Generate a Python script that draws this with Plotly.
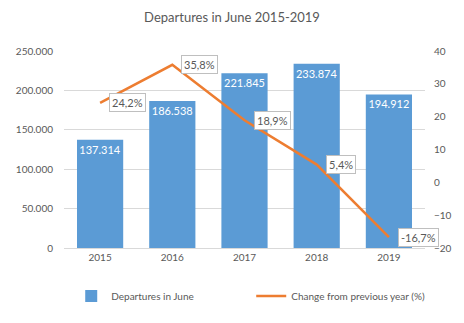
import plotly.graph_objects as go

years = ["2015", "2016", "2017", "2018", "2019"]
departures = [137314, 186538, 221845, 233874, 194912]
change_pct = [24.2, 35.8, 18.9, 5.4, -16.7]
left_ticks = [0, 50000, 100000, 150000, 200000, 250000]

BLUE = "#5B9BD5"
ORANGE = "#ED7D31"
GREY_TXT = "#595959"
FONT = "Lato, 'Open Sans', sans-serif"


def dotted(n):
    # thousands grouped with a dot, e.g. 137.314
    return f"{n:,}".replace(",", ".")


def pct(v):
    return f"{v:.1f}".replace(".", ",") + "%"


fig = go.Figure()

fig.add_trace(go.Bar(
    x=years, y=departures, name="Departures in June",
    marker=dict(color=BLUE, line=dict(width=0)),
    text=[dotted(d) for d in departures],
    textposition="inside", insidetextanchor="end", textangle=0,
    constraintext="none",
    textfont=dict(color="white", size=11, family=FONT),
))

fig.add_trace(go.Scatter(
    x=years, y=change_pct, name="Change from previous year (%)",
    mode="lines", line=dict(color=ORANGE, width=2.5),
    yaxis="y2",
))

# boxed percentage labels to the right of each line point
# (category index positions, since year strings would be read as indices)
for i, v in enumerate(change_pct):
    fig.add_annotation(
        x=i, y=v, xref="x", yref="y2",
        text=pct(v),
        showarrow=False, xanchor="left", xshift=9,
        bgcolor="white", bordercolor="#BFBFBF", borderwidth=1, borderpad=2,
        font=dict(color=GREY_TXT, size=11, family=FONT),
    )

fig.update_layout(
    width=464, height=323,
    margin=dict(l=64, r=30, t=51, b=72),
    paper_bgcolor="white", plot_bgcolor="white",
    title=dict(text="Departures in June 2015-2019", x=0.5, xanchor="center",
               y=0.947, yanchor="middle",
               font=dict(size=13, color=GREY_TXT, family=FONT)),
    font=dict(family=FONT, color=GREY_TXT, size=10),
    bargap=0.36,
    xaxis=dict(type="category", range=[-0.5, 4.5], showgrid=False,
               showline=True, linecolor="#D9D9D9", ticks="",
               tickfont=dict(size=10, color=GREY_TXT)),
    yaxis=dict(range=[0, 250000], tickvals=left_ticks,
               ticktext=[dotted(t) for t in left_ticks],
               showgrid=True, gridcolor="#D9D9D9", zeroline=False,
               ticks="outside", ticklen=8, tickcolor="white",
               tickfont=dict(size=10, color=GREY_TXT)),
    yaxis2=dict(range=[-20, 40], dtick=10, overlaying="y", side="right",
                showgrid=False, zeroline=False,
                ticks="outside", ticklen=6, tickcolor="white",
                tickfont=dict(size=10, color=GREY_TXT)),
    legend=dict(orientation="h", x=0.02, xanchor="left", y=-0.17,
                yanchor="top", font=dict(size=10, color=GREY_TXT),
                entrywidth=135),
    showlegend=True,
)

fig.write_html("out.html")
